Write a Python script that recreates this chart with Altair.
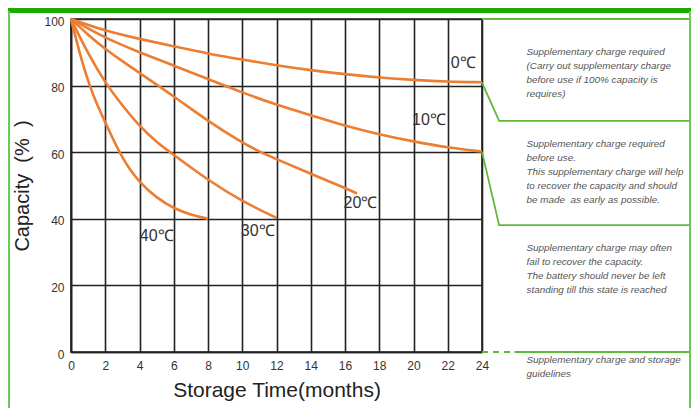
import altair as alt
import pandas as pd

# ---- data ----
series_names = ["0℃", "10℃", "20℃", "30℃", "40℃"]

months_0 = [0, 2, 4, 6, 8, 10, 12, 14, 16, 18, 20, 22, 24]
cap_0 = [100, 96.4, 94.0, 91.8, 89.6, 87.8, 86.1, 84.6, 83.4, 82.4, 81.7, 81.2, 81.0]

months_10 = [0, 2, 4, 6, 8, 10, 12, 14, 16, 18, 20, 22, 24]
cap_10 = [100, 94.2, 90.0, 86.0, 82.0, 77.9, 74.2, 71.1, 67.9, 65.3, 63.2, 61.4, 60.2]

months_20 = [0, 1, 2, 3, 4, 6, 8, 10, 11, 12, 14, 16, 16.7]
cap_20 = [100, 95.2, 91.0, 87.3, 83.8, 76.8, 69.3, 62.8, 60.2, 57.9, 53.5, 49.3, 47.6]

months_30 = [0, 1, 2, 3, 4, 5, 6, 8, 10, 12]
cap_30 = [100, 89.5, 80.8, 74.0, 67.8, 63.0, 59.2, 51.6, 45.2, 40.3]

months_40 = [0, 0.5, 1, 1.5, 2, 3, 4, 5, 6, 7, 8]
cap_40 = [100, 89.8, 81.2, 74.5, 69.0, 57.8, 50.8, 46.3, 43.1, 41.2, 40.0]

label_months = [22.9, 20.9, 16.9, 10.9, 5.0]
label_caps = [86.8, 69.7, 44.7, 36.4, 34.8]

x_ticks = list(range(0, 25, 2))
y_ticks = list(range(0, 101, 20))

NB = "\u00a0"
notes = [
    "Supplementary charge required\n(Carry out supplementary charge\nbefore use if 100% capacity is\nrequires)",
    "Supplementary charge required\nbefore use.\nThis supplementary charge will help\nto recover the capacity and should\nbe made" + NB + " as early as possible.",
    "Supplementary charge may often\nfail to recover the capacity.\nThe battery should never be left\nstanding till this state is reached",
    "Supplementary charge and storage\nguidelines",
]
note_month = [26.6, 26.6, 26.6, 26.6]
note_cap = [91.7, 64.1, 32.6, -0.9]

# green guide lines (capacity zones to the right of the chart)
guide_id = [1, 1, 2, 2, 2, 3, 3, 3, 4, 4]
guide_month = [24, 36.14, 24, 25.0, 36.14, 24, 25.0, 36.14, 25.9, 36.14]
guide_cap = [100, 100, 80.9, 69.4, 69.4, 60.1, 38.1, 38.1, 0, 0]
dash_month = [24, 25.9]
dash_cap = [0, 0]

# ---- tables ----
rows = []
for name, ms, cs in zip(series_names,
                        [months_0, months_10, months_20, months_30, months_40],
                        [cap_0, cap_10, cap_20, cap_30, cap_40]):
    for m, c in zip(ms, cs):
        rows.append({"series": name, "month": m, "cap": c})
curves = pd.DataFrame(rows)
labels = pd.DataFrame({"label": series_names, "month": label_months, "cap": label_caps})
notes_df = pd.DataFrame({"note": notes, "month": note_month, "cap": note_cap})
guides = pd.DataFrame({"g": guide_id, "month": guide_month, "cap": guide_cap,
                       "o": list(range(len(guide_id)))})
dashes = pd.DataFrame({"month": dash_month, "cap": dash_cap})
dummy = pd.DataFrame({"k": [0]})

ORANGE = "#ED7D31"
GREEN = "#5DBB3A"
DARK_GREEN = "#1AAA00"
GRID = "#222222"
FONT = "Liberation Sans"

xscale = alt.Scale(domain=[0, 24], nice=False, zero=False)
yscale = alt.Scale(domain=[0, 100], nice=False)

x_axis = alt.Axis(values=x_ticks, grid=True, ticks=False, labelFlush=False,
                  labelPadding=8, labelFontSize=12, labelColor="#333", labelFont=FONT,
                  title="Storage Time(months)", titleFontSize=21, titleFont=FONT,
                  titleFontWeight="normal", titleColor="#222", titlePadding=8)
y_axis = alt.Axis(values=y_ticks, grid=True, ticks=False, labelPadding=7,
                  labelFontSize=12, labelColor="#333", labelFont=FONT, labelOffset=2,
                  title="Capacity" + NB + NB + "(%" + NB + NB + ")", titleFontSize=20,
                  titleFont=FONT, titleFontWeight="normal", titleColor="#222",
                  titlePadding=11)

X = alt.X("month:Q", scale=xscale, axis=x_axis)
Y = alt.Y("cap:Q", scale=yscale, axis=y_axis)

lines = alt.Chart(curves).mark_line(color=ORANGE, strokeWidth=2.6, interpolate="basis").encode(
    x=X, y=Y, detail="series:N", order="month:Q",
)

temp_text = alt.Chart(labels).mark_text(font="Liberation Sans", fontSize=16,
                                        color="#333").encode(
    x=X, y=Y, text="label:N",
)

guide_lines = alt.Chart(guides).mark_line(color=GREEN, strokeWidth=1.8, clip=False).encode(
    x=X, y=Y, detail="g:N", order="o:Q",
)
dash_line = alt.Chart(dashes).mark_line(color=GREEN, strokeWidth=1.8, clip=False,
                                        strokeDash=[6, 5]).encode(x=X, y=Y)

note_text = alt.Chart(notes_df).mark_text(align="left", baseline="top", lineBreak="\n",
                                          lineHeight=14, fontStyle="italic", fontSize=9.9,
                                          color="#555", font=FONT, clip=False).encode(
    x=X, y=Y, text="note:N",
)

top_bar = alt.Chart(dummy).mark_rule(color=DARK_GREEN, strokeWidth=5).encode(
    x=alt.value(-63), x2=alt.value(620), y=alt.value(-8.5))
left_border = alt.Chart(dummy).mark_rule(color="#66CC55", strokeWidth=2).encode(
    x=alt.value(-62), y=alt.value(-8), y2=alt.value(389))
right_border = alt.Chart(dummy).mark_rule(color="#66CC55", strokeWidth=2).encode(
    x=alt.value(619), y=alt.value(-8), y2=alt.value(389))

chart = alt.layer(
    lines, temp_text, guide_lines, dash_line, note_text, top_bar, left_border, right_border
).properties(
    width=411, height=333,
    autosize=alt.AutoSizeParams(type="none"),
    padding={"left": 63, "top": 11, "right": 209, "bottom": 56},
).configure_axis(
    gridColor=GRID, gridWidth=1.6, gridOpacity=1,
    domainColor=GRID, domainWidth=1.6,
).configure_view(stroke=GRID, strokeWidth=1.6)

chart.save("out.html", embed_options={"renderer": "svg", "actions": False})
